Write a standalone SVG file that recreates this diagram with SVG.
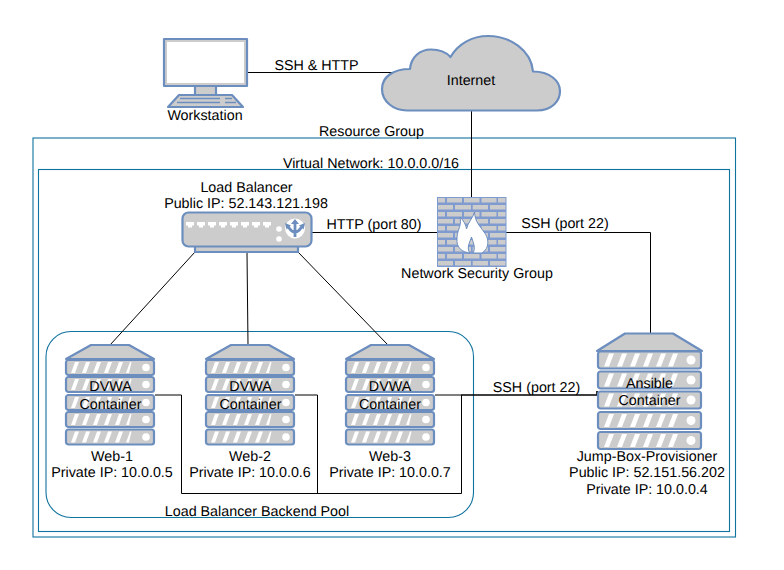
<svg xmlns="http://www.w3.org/2000/svg" xmlns:xlink="http://www.w3.org/1999/xlink" width="784" height="570" viewBox="0 0 784 570">
<style>
text{font-family:"Liberation Sans",Arial,sans-serif;font-size:14.3px;fill:#000;text-anchor:middle;text-rendering:geometricPrecision}
.s{fill:#cccccc;stroke:#6c8ebf;stroke-width:2.2;stroke-linejoin:round}
.w{fill:#fff;stroke:none}
.c{fill:none;stroke:#000;stroke-width:1}
.f{fill:none;stroke:#10739e;stroke-width:1.1}
</style>
<defs>
<g id="u">
<rect class="s" x="1" y="1" width="88" height="15" rx="2.5"/>
<path class="w" d="M6 14L10 3H14L10 14ZM17 14L21 3H25L21 14ZM28 14L32 3H36L32 14ZM39 14L43 3H47L43 14ZM50 14L54 3H58L54 14ZM61 14L65 3H66.5L64 14Z"/>
<circle class="w" cx="81" cy="8.5" r="3.8"/>
</g>
<g id="server">
<path class="s" d="M26 1H64L89 15H1Z"/>
<use xlink:href="#u" href="#u" y="15"/>
<use xlink:href="#u" href="#u" y="32"/>
<use xlink:href="#u" href="#u" y="50"/>
<use xlink:href="#u" href="#u" y="67"/>
<use xlink:href="#u" href="#u" y="84.500"/>
</g>
<g id="ju">
<rect class="s" x="1" y="1" width="103" height="17" rx="2.500"/>
<path class="w" d="M7 16L12 3H17L12 16ZM20 16L25 3H30L25 16ZM33 16L38 3H43L38 16ZM46 16L51 3H56L51 16ZM59 16L64 3H69L64 16ZM71 16L76 3H81L76 16Z"/>
<circle class="w" cx="94" cy="9.500" r="4.500"/>
</g>
</defs>
<g id="frames">
<rect id="resource-group" class="f" x="33" y="138" width="702.500" height="399"/>
<rect id="virtual-network" class="f" x="38.500" y="169.500" width="691" height="362"/>
<rect id="backend-pool" class="f" x="46" y="331.500" width="427.500" height="186" rx="25"/>
</g>
<g id="connectors">
<path class="c" d="M247 72.500H393"/>
<path class="c" d="M471.500 110V212"/>
<path class="c" d="M311 232.500H437"/>
<path class="c" d="M506 232.500H650.500V334"/>
<path class="c" d="M195 252L110 345"/>
<path class="c" d="M247 252L248 345"/>
<path class="c" d="M298 252L388 345"/>
<path class="c" d="M155 395H181.500V493.500H461.500V395"/>
<path class="c" d="M295 395H317.500V493.500"/>
<path class="c" d="M435 395H461"/>
<path class="c" d="M461 395H597V391" style="stroke-width:1.600"/>
</g>
<g id="workstation">
<rect class="s" x="195" y="85" width="21" height="10"/>
<path class="s" d="M179 95H232L243 107H168Z"/>
<path d="M180 98.500H220M225 98.500H232M177 102.500H220M225 102.500H236" stroke="#6c8ebf" stroke-width="1.500" fill="none"/>
<rect class="s" x="164" y="39" width="83" height="47"/>
<rect class="w" x="167" y="42" width="77" height="41"/>
<text x="205" y="120">Workstation</text>
</g>
<g id="internet">
<path class="s" d="M407 110.500H537C552 110.500 560 101 560 91C560 81 550 71.500 533 71.500C531 50 510 36 488 36C472 36 458 44 450.500 57C445 51 437 49.500 431 49.500C420 49.500 411 57 410 69C393 69 382 77 382 89C382 101 393 110.500 407 110.500Z"/>
<text x="471" y="85">Internet</text>
</g>
<g id="load-balancer">
<rect class="s" x="195" y="244" width="103" height="8"/>
<rect class="s" x="182.500" y="212.500" width="129" height="34" rx="6"/>
<path class="w" d="M186 222h8v3.500h-2v2h-4v-2h-2ZM197 222h8v3.500h-2v2h-4v-2h-2ZM208 222h8v3.500h-2v2h-4v-2h-2ZM219 222h8v3.500h-2v2h-4v-2h-2ZM230 222h8v3.500h-2v2h-4v-2h-2ZM241 222h8v3.500h-2v2h-4v-2h-2ZM252 222h8v3.500h-2v2h-4v-2h-2ZM263 222h8v3.500h-2v2h-4v-2h-2Z"/>
<circle class="w" cx="279" cy="229" r="2.800"/>
<circle class="w" cx="279" cy="239" r="2.800"/>
<circle class="w" cx="295" cy="228.500" r="10"/>
<path d="M295 237V222M295 232C291 232 290 229 288.500 227M295 232C299 232 300 229 301.500 227" fill="none" stroke="#6c8ebf" stroke-width="2.800"/>
<path d="M295 219L299 224H291ZM285 223L291 225.500L286.500 229.500ZM305 223L299 225.500L303.500 229.500Z" fill="#6c8ebf"/>
<text x="246.500" y="192">Load Balancer</text>
<text x="246" y="208">Public IP: 52.143.121.198</text>
</g>
<g id="nsg">
<rect x="437" y="197" width="69.500" height="70" fill="#7f9bd0"/>
<path fill="#cccccc" d="M438 198h7v4.500h-7ZM447 198h15v4.500h-15ZM464 198h15.500v4.500h-15.500ZM481.500 198h15v4.500h-15ZM498 198h7.500v4.500h-7.500ZM438 205h15v4.500h-15ZM455 205h16v4.500h-16ZM472.700 205h15.300v4.500h-15.300ZM490 205h15.500v4.500h-15.500ZM438 212h7v4.500h-7ZM447 212h15v4.500h-15ZM464 212h15.500v4.500h-15.500ZM481.500 212h15v4.500h-15ZM498 212h7.500v4.500h-7.500ZM438 219h15v4.500h-15ZM455 219h16v4.500h-16ZM472.700 219h15.300v4.500h-15.300ZM490 219h15.500v4.500h-15.500ZM438 226h7v4.500h-7ZM447 226h15v4.500h-15ZM464 226h15.500v4.500h-15.500ZM481.500 226h15v4.500h-15ZM498 226h7.500v4.500h-7.500ZM438 233h15v4.500h-15ZM455 233h16v4.500h-16ZM472.700 233h15.300v4.500h-15.300ZM490 233h15.500v4.500h-15.500ZM438 240h7v4.500h-7ZM447 240h15v4.500h-15ZM464 240h15.500v4.500h-15.500ZM481.500 240h15v4.500h-15ZM498 240h7.500v4.500h-7.500ZM438 247h15v4.500h-15ZM455 247h16v4.500h-16ZM472.700 247h15.300v4.500h-15.300ZM490 247h15.500v4.500h-15.500ZM438 254h7v4.500h-7ZM447 254h15v4.500h-15ZM464 254h15.500v4.500h-15.500ZM481.500 254h15v4.500h-15ZM498 254h7.500v4.500h-7.500ZM438 261h15v4.500h-15ZM455 261h16v4.500h-16ZM472.700 261h15.300v4.500h-15.300ZM490 261h15.500v4.500h-15.500Z"/>
<path fill="#fff" stroke="#6c8ebf" stroke-width="1" d="M474.500 212C475 222 480 226 484 232C489 238 490 248 482 253L473 253C476 248 473 242 471.500 237C470 242 466 248 470 253C462 252 456 248 457 238C457 230 462 226 460 217C464 221 466 225 466.500 229C468 222 473 218 474.500 212Z"/>
<text x="477" y="278">Network Security Group</text>
</g>
<g id="web-1">
<use xlink:href="#server" href="#server" x="65" y="344"/>
<text x="110.500" y="391">DVWA</text>
<text x="110.500" y="409">Container</text>
<text x="112" y="461">Web-1</text>
<text x="112" y="477">Private IP: 10.0.0.5</text>
</g>
<g id="web-2">
<use xlink:href="#server" href="#server" x="205" y="344"/>
<text x="250.500" y="391">DVWA</text>
<text x="250.500" y="409">Container</text>
<text x="250" y="461">Web-2</text>
<text x="250" y="477">Private IP: 10.0.0.6</text>
</g>
<g id="web-3">
<use xlink:href="#server" href="#server" x="345" y="344"/>
<text x="390" y="391">DVWA</text>
<text x="390" y="409">Container</text>
<text x="390" y="461">Web-3</text>
<text x="390" y="477">Private IP: 10.0.0.7</text>
</g>
<g id="jump-box">
<path class="s" d="M625 333.500H673L702 351H597Z"/>
<use xlink:href="#ju" href="#ju" x="597" y="350.500"/>
<use xlink:href="#ju" href="#ju" x="597" y="370.500"/>
<use xlink:href="#ju" href="#ju" x="597" y="390.500"/>
<use xlink:href="#ju" href="#ju" x="597" y="411"/>
<use xlink:href="#ju" href="#ju" x="597" y="431"/>
<text x="649.500" y="388">Ansible</text>
<text x="649.500" y="405">Container</text>
<text x="647" y="461">Jump-Box-Provisioner</text>
<text x="647" y="477">Public IP: 52.151.56.202</text>
<text x="647" y="494">Private IP: 10.0.0.4</text>
</g>
<g id="labels">
<text x="316.500" y="70">SSH &amp; HTTP</text>
<text x="371.500" y="135.500">Resource Group</text>
<text x="371" y="167.500">Virtual Network: 10.0.0.0/16</text>
<text x="374" y="229">HTTP (port 80)</text>
<text x="565" y="228">SSH (port 22)</text>
<text x="536.500" y="392">SSH (port 22)</text>
<text x="257" y="516">Load Balancer Backend Pool</text>
</g>
</svg>
